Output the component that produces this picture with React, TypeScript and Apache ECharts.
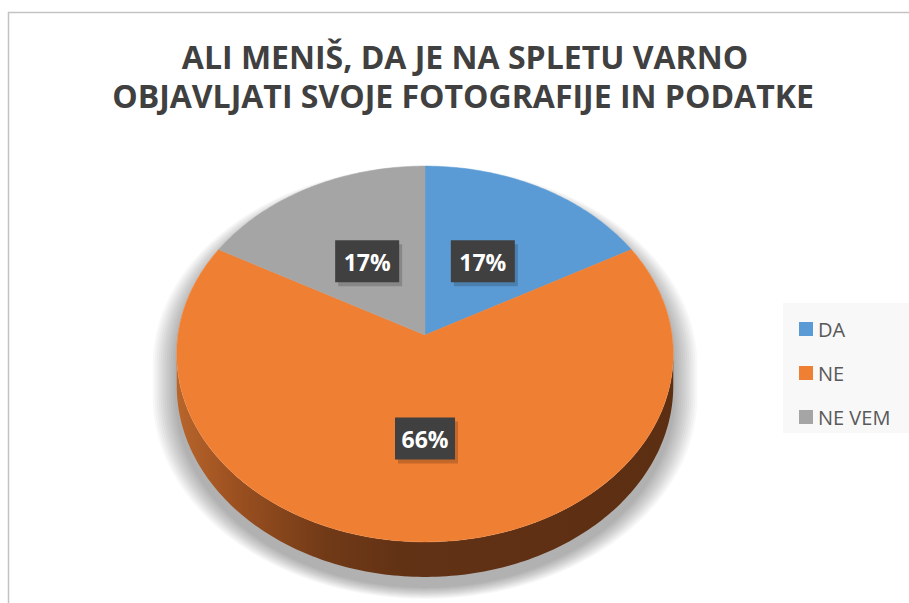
import React, { useEffect, useRef } from 'react';
import * as echarts from 'echarts';

const titleLines = ['ALI MENIŠ, DA JE NA SPLETU VARNO', 'OBJAVLJATI SVOJE FOTOGRAFIJE IN PODATKE'];
const categories = ['DA', 'NE', 'NE VEM'];
const values = [17, 66, 17];
const colors = ['#5b9bd5', '#ef7f33', '#a5a5a5'];

// geometry of the tilted pie (perspective projection of a disc)
const CX = 425;
const CY = 335;
const RX = 247;
const RY = 186;
const PERSP = 0.101;
const DEPTH = 31.5;
const LABEL_R = 0.5;

const total = values.reduce((a, b) => a + b, 0);

function rimE(theta: number, ex: number, ey: number, dy: number): number[] {
  const f = 1 / (1 + PERSP * Math.cos(theta));
  return [CX + (RX + ex) * Math.sin(theta) * f, CY + dy - (RY + ey) * Math.cos(theta) * f];
}
function rim(theta: number): number[] {
  return rimE(theta, 0, 0, 0);
}
function rimDown(theta: number): number[] {
  const f = 1 / (1 + PERSP * Math.cos(theta));
  const p = rim(theta);
  return [p[0], p[1] + DEPTH * f];
}
function arcPoints(a0: number, a1: number, fn: (t: number) => number[]): number[][] {
  const n = Math.max(4, Math.ceil(((a1 - a0) * 180) / Math.PI));
  const pts: number[][] = [];
  for (let j = 0; j <= n; j++) pts.push(fn(a0 + ((a1 - a0) * j) / n));
  return pts;
}
function sliceAngles(i: number): number[] {
  let before = 0;
  for (let j = 0; j < i; j++) before += values[j];
  const a0 = (before / total) * Math.PI * 2;
  const a1 = ((before + values[i]) / total) * Math.PI * 2;
  return [a0, a1];
}

export default function App() {
  const ref = useRef<HTMLDivElement>(null);
  useEffect(() => {
    if (!ref.current) return;
    const chart = echarts.init(ref.current, undefined, { renderer: 'svg' });
    const tL = Math.acos(-PERSP); // right extreme
    const tR = Math.PI * 2 - tL; // left extreme

    const baseSeries: any = {
      type: 'custom',
      name: 'base',
      coordinateSystem: 'none',
      silent: true,
      z: 1,
      data: [[total]],
      renderItem: () => {
        const top = arcPoints(0, Math.PI * 2, rim);
        const front = arcPoints(tL, tR, rim);
        const frontDown = arcPoints(tL, tR, rimDown).reverse();
        const shadows: any[] = [];
        for (let s = 12; s >= 1; s--) {
          const e = s * 2;
          const ey = e * 0.45;
          const dy = 10;
          // left extreme -> over the top -> right extreme
          const up = arcPoints(tR, tL + Math.PI * 2, (t) => rimE(t, e, ey, dy));
          // right extreme (lowered) -> bottom -> left extreme (lowered)
          const down = arcPoints(tL, tR, (t) => {
            const f = 1 / (1 + PERSP * Math.cos(t));
            const p = rimE(t, e, ey, dy);
            return [p[0], p[1] + DEPTH * f];
          });
          shadows.push({
            type: 'polygon',
            shape: { points: up.concat(down) },
            style: { fill: 'rgba(0,0,0,0.026)' },
          });
        }
        return {
          type: 'group',
          children: [
            ...shadows,
            {
              type: 'polygon',
              shape: { points: front.concat(frontDown) },
              style: {
                fill: new echarts.graphic.LinearGradient(0, 0, 1, 0, [
                  { offset: 0, color: '#b8652b' },
                  { offset: 0.12, color: '#9b5020' },
                  { offset: 0.3, color: '#713a17' },
                  { offset: 0.45, color: '#623215' },
                  { offset: 1, color: '#5c2e12' },
                ]),
              },
            },
            {
              type: 'polygon',
              shape: { points: top },
              style: { fill: '#ffffff' },
            },
          ],
        };
      },
    };

    const sliceSeries: any[] = categories.map((name, i) => ({
      type: 'custom',
      name,
      coordinateSystem: 'none',
      z: 2,
      itemStyle: { color: colors[i] },
      data: [[values[i]]],
      renderItem: () => {
        const [a0, a1] = sliceAngles(i);
        const pts = [[CX, CY]].concat(arcPoints(a0, a1, rim));
        return {
          type: 'polygon',
          shape: { points: pts },
          style: { fill: colors[i], stroke: colors[i], lineWidth: 0.5 },
        };
      },
    }));

    const labelSeries: any = {
      type: 'custom',
      name: 'labels',
      coordinateSystem: 'none',
      silent: true,
      z: 3,
      data: values.map((v, i) => [v, i]),
      renderItem: (params: any, api: any) => {
        const i = api.value(1);
        const v = api.value(0);
        const [a0, a1] = sliceAngles(i);
        const mid = (a0 + a1) / 2;
        const p = rim(mid);
        const x = CX + (p[0] - CX) * LABEL_R;
        const y = CY + (p[1] - CY) * LABEL_R;
        const txt = Math.round((v / total) * 100) + '%';
        const w = txt.startsWith('6') ? 60 : 64;
        return {
          type: 'group',
          children: [
            {
              type: 'rect',
              shape: { x: x - w / 2 + 3, y: y - 21 + 4, width: w, height: 42 },
              style: { fill: 'rgba(0,0,0,0.18)' },
            },
            {
              type: 'rect',
              shape: { x: x - w / 2, y: y - 21, width: w, height: 42 },
              style: { fill: '#404040' },
            },
            {
              type: 'text',
              style: {
                text: txt,
                x,
                y: y + 1,
                align: 'center',
                verticalAlign: 'middle',
                fill: '#ffffff',
                font: 'bold 23px "Open Sans", sans-serif',
              },
            },
          ],
        };
      },
    };

    chart.setOption({
      animation: false,
      backgroundColor: '#ffffff',
      graphic: [
        {
          type: 'rect',
          z: -10,
          shape: { x: 8.5, y: 12.5, width: 960, height: 700 },
          style: { fill: '#ffffff', stroke: '#c3c3c3', lineWidth: 1.5 },
        },
        {
          type: 'rect',
          z: -9,
          shape: { x: 783, y: 303, width: 140, height: 130 },
          style: { fill: '#f8f8f8' },
        },
        {
          type: 'text',
          x: 465,
          y: 56,
          style: {
            text: titleLines[0],
            align: 'center',
            verticalAlign: 'middle',
            fill: '#404040',
            font: 'bold 32px "Open Sans", sans-serif',
          },
        },
        {
          type: 'text',
          x: 463,
          y: 95,
          style: {
            text: titleLines[1],
            align: 'center',
            verticalAlign: 'middle',
            fill: '#404040',
            font: 'bold 32px "Open Sans", sans-serif',
          },
        },
      ],
      legend: {
        data: categories,
        orient: 'vertical',
        left: 794,
        top: 314,
        icon: 'rect',
        itemWidth: 14,
        itemHeight: 14,
        itemGap: 24,
        textStyle: { color: '#595959', fontSize: 20, fontFamily: 'Open Sans' },
        selectedMode: false,
      },
      series: [baseSeries, ...sliceSeries, labelSeries],
    });
    return () => chart.dispose();
  }, []);
  return (
    <div
      ref={ref}
      style={{ position: 'fixed', left: 0, top: 0, width: 909, height: 603 }}
    />
  );
}
